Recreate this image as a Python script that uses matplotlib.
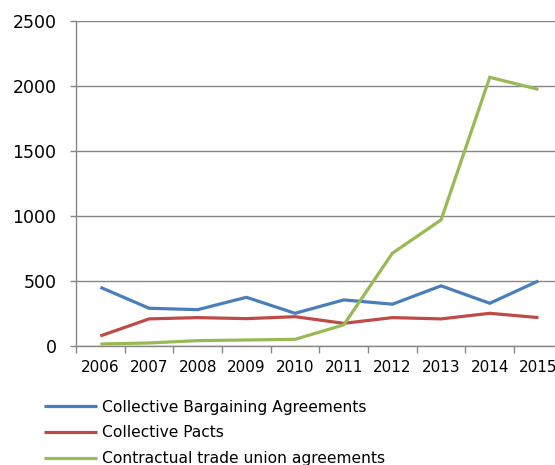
import numpy as np
import matplotlib
matplotlib.use("Agg")
import matplotlib.pyplot as plt

years = ["2006", "2007", "2008", "2009", "2010", "2011", "2012", "2013", "2014", "2015"]
bargaining = [451, 290, 279, 374, 251, 354, 321, 462, 328, 500]
pacts = [77, 208, 218, 210, 225, 174, 218, 208, 251, 218]
trade_union = [15, 23, 41, 46, 51, 162, 713, 969, 2065, 1972]

series_names = [
    "Collective Bargaining Agreements",
    "Collective Pacts",
    "Contractual trade union agreements",
]
colors = ["#4A7EBB", "#BE4B48", "#98B954"]

plt.rcParams["font.family"] = ["DejaVu Sans"]

fig = plt.figure(figsize=(5.55, 4.65), dpi=100)
ax = fig.add_axes([0.137, 0.256, 0.877, 0.6995])

x = np.arange(len(years))
handles = []
for vals, name, c in zip([bargaining, pacts, trade_union], series_names, colors):
    (h,) = ax.plot(x, vals, color=c, lw=2.3, label=name, solid_capstyle="butt",
                   solid_joinstyle="miter", zorder=3)
    handles.append(h)

grid_c = "#868686"
ax.set_ylim(0, 2500)
ax.set_yticks(np.arange(0, 2501, 500))
ax.set_xlim(-0.5, len(years) - 0.5)
ax.set_xticks(np.arange(-0.5, len(years), 1.0))
ax.set_xticklabels([])
ax.set_xticks(x, minor=True)
ax.set_xticklabels(years, minor=True)
ax.tick_params(axis="x", which="minor", length=0, pad=10, labelsize=11)
ax.tick_params(axis="x", which="major", length=5, color=grid_c, width=1)
ax.tick_params(axis="y", length=4, color=grid_c, width=1, labelsize=12.5, pad=10)

ax.grid(axis="y", color=grid_c, lw=1)
ax.set_axisbelow(True)
for side in ["top", "right"]:
    ax.spines[side].set_visible(False)
for side in ["left", "bottom"]:
    ax.spines[side].set_color(grid_c)
    ax.spines[side].set_linewidth(1)

fig.legend(handles=handles, loc="upper left", bbox_to_anchor=(0.08, 0.14),
           frameon=False, fontsize=11.2, handlelength=3.4, handletextpad=0.3,
           labelspacing=0.68, borderaxespad=0, borderpad=0)

fig.savefig("out.png", dpi=100)
